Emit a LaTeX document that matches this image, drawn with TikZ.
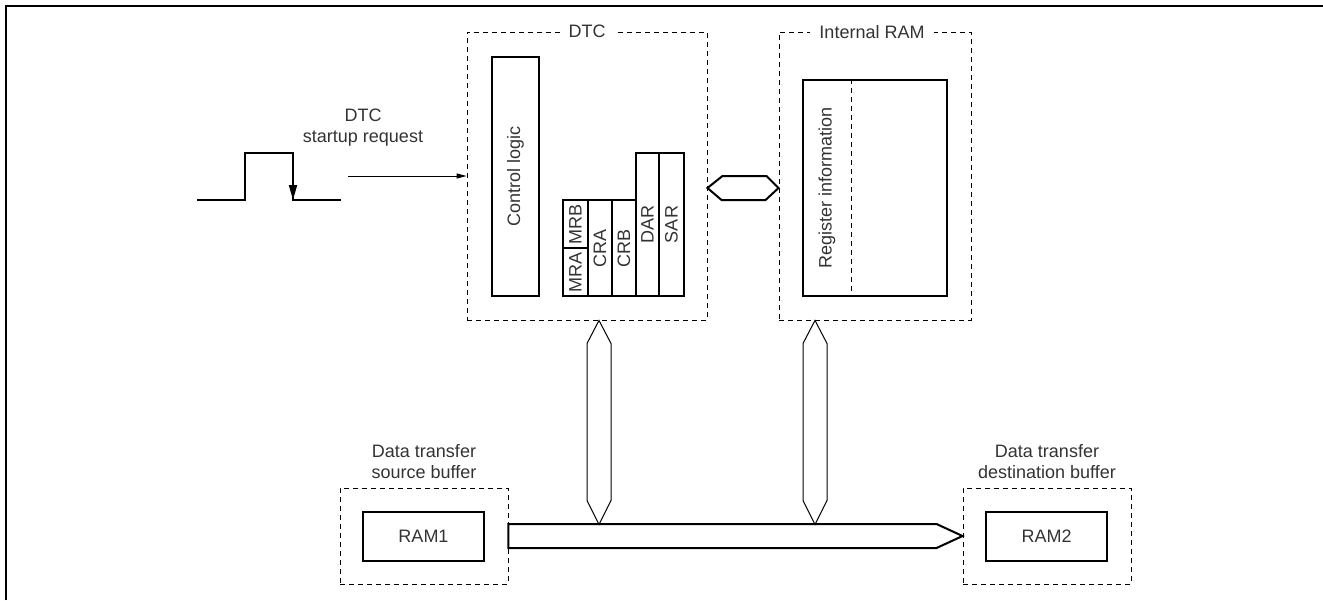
\documentclass[tikz,border=0pt]{standalone}
\usepackage{fontspec}
\setmainfont{Liberation Sans}
\usetikzlibrary{arrows.meta,calc}
\begin{document}
\begin{tikzpicture}[x=1pt,y=-1pt,
  txt/.style={font=\fontsize{18}{21}\selectfont, text=black!80},
  dbox/.style={draw, dash pattern=on 5pt off 4pt, line width=0.9pt, inner sep=0, fill=none},
  sbox/.style={draw, line width=2.2pt, inner sep=0, txt},
  rbox/.style={sbox, rotate=90},
  buswide/.style={draw, line width=2pt, line join=miter},
  busthin/.style={draw, line width=1pt, line join=miter},
  ttl/.style={txt, fill=white, inner xsep=9pt, inner ysep=2pt},
  lbl/.style={txt, align=center}]
\useasboundingbox (0,0) rectangle (1323,600);
% outer frame
\draw[line width=2pt] (6,600) -- (6,6) -- (1323,6);

% DTC
\node[dbox, minimum width=240, minimum height=288] (dtc) at (587,176) {};
\node[ttl] (dtct) at (dtc.north) {DTC};
\node[rbox, minimum width=239, minimum height=47] (cl) at (515.5,176.5) {Control logic};
\node[rbox, minimum width=48, minimum height=25] (mra) at (575.5,272) {MRA};
\node[rbox, minimum width=48, minimum height=25] (mrb) at (575.5,224) {MRB};
\node[rbox, minimum width=96, minimum height=24] (cra) at (600,248) {CRA};
\node[rbox, minimum width=96, minimum height=24] (crb) at (624,248) {CRB};
\node[rbox, minimum width=143, minimum height=23] (dar) at (647.5,224.5) {DAR};
\node[rbox, minimum width=143, minimum height=25] (sar) at (671.5,224.5) {SAR};

% Internal RAM
\node[dbox, minimum width=192, minimum height=288] (iram) at (875,176) {};
\node[ttl] (iramt) at (872,32) {Internal RAM};
\node[sbox, minimum width=144, minimum height=216] (reg) at (875,188) {};
\draw[dash pattern=on 5pt off 4pt, line width=0.9pt] ([xshift=-24]reg.north) -- ([xshift=-24]reg.south);
\node[txt, rotate=90] (regt) at (827,188) {Register information};

% bus DTC <-> internal RAM
\draw[buswide] (dtc.east |- reg.center) -- ++(15,-12) -- ++(44,0) -- (iram.west |- reg.center) -- ++(-13,12) -- ++(-44,0) -- cycle;

% source / destination buffers
\node[dbox, minimum width=168, minimum height=96] (src) at (424,536) {};
\node[sbox, minimum width=121, minimum height=49] (ram1) at (423.5,536.5) {RAM1};
\node[lbl] (srcl) at (424,462) {Data transfer\\source buffer};
\node[dbox, minimum width=168, minimum height=96] (dst) at (1047,536) {};
\node[sbox, minimum width=121, minimum height=49] (ram2) at (1046.5,536.5) {RAM2};
\node[lbl] (dstl) at (1047,462) {Data transfer\\destination buffer};

% main bus
\draw[buswide] (src.east) -- ($(src.east)+(0,-12)$) -- ($(dst.west)+(-26,-12)$) -- (dst.west)
  -- ($(dst.west)+(-26,12)$) -- ($(src.east)+(0,12)$) -- cycle;

% vertical buses
\coordinate (v1) at ([xshift=12]dtc.south);
\coordinate (v2) at ([xshift=-60]iram.south);
\draw[busthin] (v1) -- ++(12,23) -- ++(0,157) -- ++(-12,24) -- ++(-12,-24) -- ++(0,-157) -- cycle;
\draw[busthin] (v2) -- ++(12,23) -- ++(0,157) -- ++(-12,24) -- ++(-12,-24) -- ++(0,-157) -- cycle;

% startup request
\node[lbl] (req) at (363,128) {DTC\\startup request};
\draw[line width=2pt] (197,200) -- (245,200) -- (245,153) -- (293,153) -- (293,200) -- (341,200);
\draw[line width=2pt, -{Triangle[length=15pt,width=8pt]}] (293,175) -- (293,200);
\coordinate (reqs) at (348,176);
\draw[line width=0.9pt, -{Triangle[length=10pt,width=5pt]}] (reqs) -- (dtc.west);
\end{tikzpicture}
\end{document}
